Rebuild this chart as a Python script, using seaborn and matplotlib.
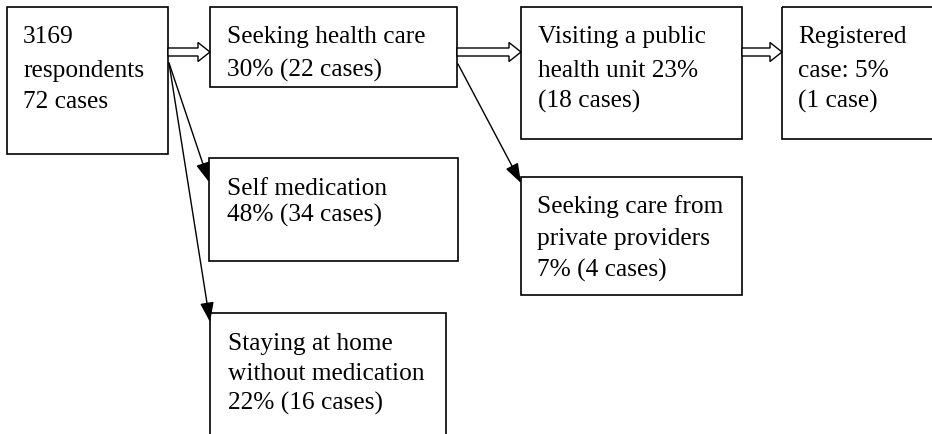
import matplotlib
matplotlib.use("Agg")
import matplotlib.pyplot as plt
import matplotlib.patches as mpatches
import seaborn as sns

# box texts (one list entry per text line)
start_lines = ["3169", "respondents", "72 cases"]
care_lines = ["Seeking health care", "30% (22 cases)"]
public_lines = ["Visiting a public", "health unit 23%", "(18 cases)"]
registered_lines = ["Registered", "case: 5%", "(1 case)"]
selfmed_lines = ["Self medication", "48% (34 cases)"]
home_lines = ["Staying at home", "without medication", "22% (16 cases)"]
private_lines = ["Seeking care from", "private providers", "7% (4 cases)"]

# layout in pixel units: (x0, y0, x1, y1), text x, text baselines
boxes = {
    "start": ((7, 8, 168, 155), 23, [43, 77, 108], start_lines),
    "care": ((210, 8, 457, 88), 227, [43, 77], care_lines),
    "public": ((521, 8, 742, 140), 538, [43, 77, 108], public_lines),
    "registered": ((782, 8, 945, 140), 798, [43, 77, 108], registered_lines),
    "selfmed": ((209, 159, 458, 262), 227, [195, 222], selfmed_lines),
    "home": ((210, 314, 446, 450), 228, [350, 380, 410], home_lines),
    "private": ((521, 178, 742, 296), 537, [213, 245, 277], private_lines),
}

hollow = [(168, 210), (457, 521), (742, 782)]
thin = [((169, 64), (209, 183)), ((169, 64), (210, 323)), ((458, 65), (521, 184))]

sns.set_theme(style="white")
plt.rcParams["font.family"] = ["Liberation Serif", "DejaVu Serif"]

fig = plt.figure(figsize=(9.32, 4.35), dpi=100)
ax = fig.add_axes([0, 0, 1, 1])
ax.set_xlim(0, 932)
ax.set_ylim(435, 0)
ax.axis("off")

for (x0, y0, x1, y1), tx, bases, lines in boxes.values():
    ax.add_patch(mpatches.Rectangle((x0, y0), x1 - x0, y1 - y0, fill=False,
                                    edgecolor="black", lw=1.2))
    for b, s in zip(bases, lines):
        ax.text(tx, b, s, fontsize=18.3, va="baseline", ha="left", color="black")

for xa, xb in hollow:
    ax.add_patch(mpatches.FancyArrow(xa, 53, xb - xa, 0, width=8, head_width=19,
                                     head_length=12, length_includes_head=True,
                                     facecolor="white", edgecolor="black", lw=1.0))

for a, b in thin:
    ax.annotate("", xy=b, xytext=a,
                arrowprops=dict(arrowstyle="-|>,head_length=0.8,head_width=0.28",
                                color="black", lw=1.0, mutation_scale=15,
                                shrinkA=0, shrinkB=0))

fig.savefig("out.png", dpi=100)
